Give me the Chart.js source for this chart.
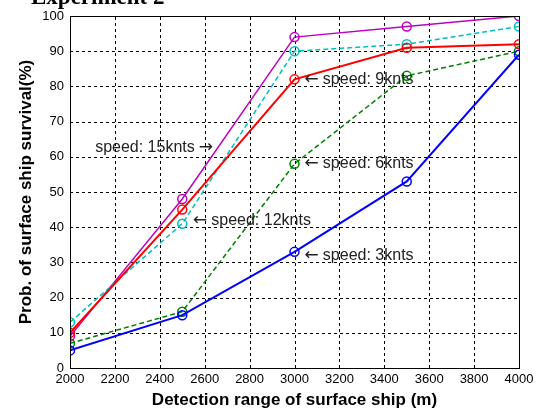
<!DOCTYPE html>
<html>
<head>
<meta charset="utf-8">
<script src="https://cdn.jsdelivr.net/npm/chart.js@4/dist/chart.umd.min.js"></script>
<style>
  html, body { margin: 0; padding: 0; background: #fff; }
  #wrap { width: 542px; height: 411px; position: relative; }
</style>
</head>
<body>
<div id="wrap"><canvas id="myChart"></canvas></div>
<script>
const ranges = [2000, 2500, 3000, 3500, 4000];

const speed3 = [5, 15, 33, 53, 89];
const speed6 = [7, 16, 58, 83, 90];
const speed9 = [10, 45, 82, 91, 92];
const speed12 = [13, 41, 90, 92, 97];
const speed15 = [9, 48, 94, 97, 100];

// labels written on the plot, positioned in data units
const noteText = ['speed: 9knts', 'speed: 15knts', 'speed: 6knts', 'speed: 12knts', 'speed: 3knts'];
const noteArrow = ['left', 'right', 'left', 'left', 'left'];
const noteX = [3045, 2637, 3045, 2548, 3045];
const noteY = [81.8, 62.5, 58.2, 41.8, 31.8];

function points(vals) {
    return vals.map((v, i) => ({ x: ranges[i], y: v }));
}

function series(label, vals, color, dashed, width) {
    return {
        label: label,
        data: points(vals),
        borderColor: color,
        backgroundColor: 'transparent',
        borderWidth: width,
        borderDash: dashed ? [5, 3] : [],
        pointRadius: 4.5,
        pointBorderWidth: 1.5,
        pointBorderColor: color,
        pointBackgroundColor: 'transparent',
        tension: 0
    };
}

// dashed black grid like the matlab figure
const dashedGrid = {
    id: 'dashedGrid',
    beforeDatasetsDraw(chart) {
        const { ctx, chartArea: a, scales } = chart;
        ctx.save();
        ctx.strokeStyle = '#000';
        ctx.lineWidth = 1;
        ctx.setLineDash([3, 3]);
        scales.x.ticks.forEach(t => {
            const px = Math.round(scales.x.getPixelForValue(t.value)) + 0.5;
            ctx.beginPath();
            ctx.moveTo(px, a.bottom);
            ctx.lineTo(px, a.top);
            ctx.stroke();
        });
        scales.y.ticks.forEach(t => {
            const py = Math.round(scales.y.getPixelForValue(t.value)) + 0.5;
            ctx.beginPath();
            ctx.moveTo(a.left, py);
            ctx.lineTo(a.right, py);
            ctx.stroke();
        });
        ctx.restore();
    }
};

const boxAndNotes = {
    id: 'boxAndNotes',
    afterDraw(chart) {
        const { ctx, chartArea: a, scales } = chart;
        ctx.save();
        ctx.strokeStyle = '#000';
        ctx.lineWidth = 1;
        ctx.setLineDash([]);
        ctx.strokeRect(Math.round(a.left) + 0.5, Math.round(a.top) + 0.5,
            Math.round(a.right - a.left), Math.round(a.bottom - a.top));

        ctx.fillStyle = '#222';
        ctx.textBaseline = 'middle';
        const textFont = '16px Arial, "Liberation Sans", sans-serif';
        const arrowFont = '17px "DejaVu Sans", sans-serif';
        for (let i = 0; i < noteText.length; i++) {
            const px = scales.x.getPixelForValue(noteX[i]);
            const py = scales.y.getPixelForValue(noteY[i]);
            ctx.font = textFont;
            const tw = ctx.measureText(noteText[i]).width;
            ctx.font = arrowFont;
            const aw = ctx.measureText('←').width;
            ctx.textAlign = 'left';
            if (noteArrow[i] === 'left') {
                ctx.font = arrowFont;
                ctx.fillText('←', px, py);
                ctx.font = textFont;
                ctx.fillText(noteText[i], px + aw + 4, py);
            } else {
                ctx.font = textFont;
                ctx.fillText(noteText[i], px - aw - 4 - tw, py);
                ctx.font = arrowFont;
                ctx.fillText('→', px - aw, py);
            }
        }

        ctx.font = 'bold 23px "Liberation Serif", "Times New Roman", serif';
        ctx.textAlign = 'left';
        ctx.textBaseline = 'alphabetic';
        ctx.fillStyle = '#000';
        ctx.fillText('Experiment 2', 31, 4);
        ctx.restore();
    }
};

document.addEventListener('DOMContentLoaded', function () {
    const ctx = document.getElementById('myChart');

    new Chart(ctx, {
        type: 'line',
        data: {
            datasets: [
                series('3knts', speed3, '#0000ff', false, 2),
                series('6knts', speed6, '#008000', true, 1.5),
                series('9knts', speed9, '#ff0000', false, 2),
                series('12knts', speed12, '#00bfbf', true, 1.5),
                series('15knts', speed15, '#bf00bf', false, 1.5)
            ]
        },
        options: {
            responsive: true,
            maintainAspectRatio: false,
            animation: false,
            layout: {
                padding: { left: 0, right: 23, top: 16, bottom: 0 }
            },
            scales: {
                x: {
                    type: 'linear',
                    min: 2000,
                    max: 4000,
                    afterFit: axis => { axis.height = 43; },
                    ticks: {
                        stepSize: 200,
                        color: '#000',
                        padding: 4,
                        maxRotation: 0,
                        callback: value => String(value),
                        font: { family: 'Arial, "Liberation Sans", sans-serif', size: 13 }
                    },
                    grid: { display: false, drawTicks: false },
                    border: { display: false },
                    title: {
                        display: true,
                        text: 'Detection range of surface ship (m)',
                        color: '#000',
                        padding: { top: 2, bottom: 0 },
                        font: { family: 'Arial, "Liberation Sans", sans-serif', size: 17, weight: 'bold' }
                    }
                },
                y: {
                    min: 0,
                    max: 100,
                    afterFit: axis => { axis.width = 70; },
                    ticks: {
                        stepSize: 10,
                        color: '#000',
                        padding: 6,
                        font: { family: 'Arial, "Liberation Sans", sans-serif', size: 13 }
                    },
                    grid: { display: false, drawTicks: false },
                    border: { display: false },
                    title: {
                        display: true,
                        text: 'Prob. of surface ship survival(%)',
                        color: '#000',
                        padding: { top: 16, bottom: 0 },
                        font: { family: 'Arial, "Liberation Sans", sans-serif', size: 17, weight: 'bold' }
                    }
                }
            },
            plugins: {
                legend: { display: false },
                tooltip: { enabled: false }
            }
        },
        plugins: [dashedGrid, boxAndNotes]
    });
});
</script>
</body>
</html>
